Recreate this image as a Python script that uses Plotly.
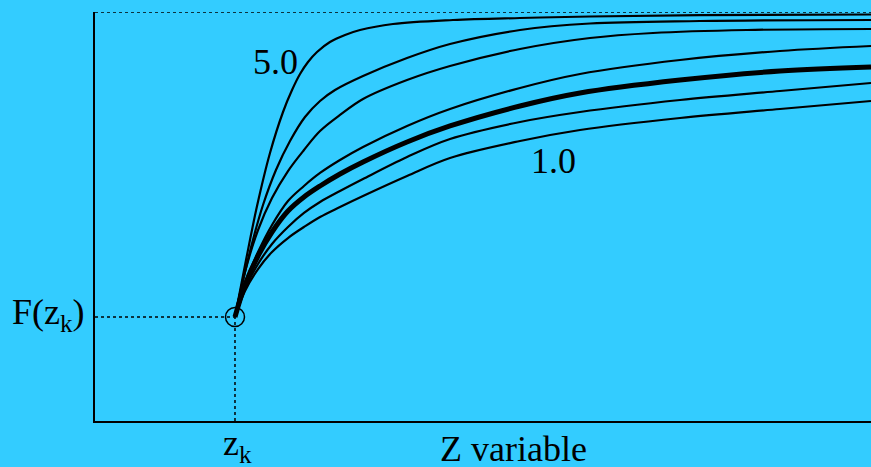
import plotly.graph_objects as go

# Conditional point (z_k, F(z_k)) shared by every curve
z_k = 18.04
F_k = 25.43

# Family of cumulative curves rising from (z_k, F_k); first is the "5.0" curve, last the "1.0" curve
curve_z = [
    [18.04, 19.46, 20.88, 22.55, 24.23, 25.39, 26.42, 27.45, 28.61, 30.28, 32.22, 34.15, 38.40, 46.13, 54.77, 63.79, 77.96, 100],
    [18.04, 19.33, 20.49, 21.65, 23.32, 25.13, 27.06, 29.00, 30.93, 34.54, 40.21, 45.75, 54.77, 63.79, 77.96, 100],
    [18.04, 19.33, 21.01, 22.81, 24.87, 26.93, 29.00, 31.57, 34.54, 40.21, 45.75, 54.77, 63.79, 71.91, 84.02, 100],
    [18.04, 19.33, 21.01, 22.81, 24.87, 26.93, 29.00, 31.57, 34.54, 40.21, 45.75, 54.77, 62.50, 75.39, 88.27, 100],
    [18.04, 19.33, 21.01, 22.81, 24.87, 26.93, 29.00, 31.57, 34.54, 40.21, 45.75, 54.77, 62.50, 75.39, 88.27, 100],
    [18.04, 19.33, 21.01, 22.81, 24.87, 26.93, 29.00, 31.57, 34.54, 40.21, 45.75, 54.77, 62.50, 75.39, 88.27, 100],
    [18.04, 19.33, 21.01, 22.81, 24.87, 26.93, 29.00, 31.57, 34.54, 40.21, 45.75, 54.77, 62.50, 75.39, 88.27, 100],
]
curve_F = [
    [25.43, 39.36, 52.57, 65.53, 75.55, 80.93, 84.84, 87.78, 90.22, 92.67, 94.38, 95.60, 97.07, 98.04, 98.53, 98.90, 99.22, 99.39],
    [25.43, 36.43, 45.23, 52.81, 61.37, 68.46, 74.33, 78.24, 80.93, 84.35, 88.75, 92.18, 95.60, 97.19, 97.80, 98.04],
    [25.43, 36.43, 46.70, 54.52, 61.12, 66.26, 70.90, 74.82, 78.73, 83.37, 86.80, 90.95, 93.64, 94.87, 95.60, 95.84],
    [25.43, 33.74, 41.32, 47.92, 53.79, 57.46, 60.64, 63.81, 66.99, 72.13, 76.28, 81.42, 84.84, 88.26, 90.46, 91.69],
    [25.43, 33.25, 40.34, 46.21, 51.34, 54.77, 57.46, 60.39, 63.33, 68.22, 72.13, 77.02, 80.20, 83.37, 85.57, 86.55],
    [25.43, 32.27, 38.39, 43.28, 47.43, 50.86, 53.55, 56.23, 59.17, 64.55, 68.95, 73.11, 75.55, 78.48, 80.68, 82.64],
    [25.43, 31.78, 37.16, 41.32, 44.74, 47.43, 49.88, 52.32, 55.01, 59.90, 64.30, 68.46, 71.15, 74.08, 76.28, 78.24],
]
curve_width = [2.2, 2.2, 2.2, 2.2, 5, 2.2, 2.2]

labels = ["5.0", "1.0"]
label_z = [23.3, 59.1]
label_F = [87.8, 63.6]

BG = "#33CCFF"
FONT = "Liberation Serif"

fig = go.Figure()

# Dotted guides: top bound, and the projections of the conditioning point
guide = dict(color="black", width=1.5, dash="dot")
fig.add_trace(go.Scatter(x=[0, 100], y=[100, 100], mode="lines", line=guide,
                         cliponaxis=False, hoverinfo="skip"))
fig.add_trace(go.Scatter(x=[0, z_k], y=[F_k, F_k], mode="lines", line=guide, hoverinfo="skip"))
fig.add_trace(go.Scatter(x=[z_k, z_k], y=[0, F_k], mode="lines", line=guide, hoverinfo="skip"))

for zs, fs, w in zip(curve_z, curve_F, curve_width):
    fig.add_trace(go.Scatter(x=zs, y=fs, mode="lines",
                             line=dict(color="black", width=w, shape="spline", smoothing=1.0),
                             cliponaxis=False, hoverinfo="skip"))

fig.add_trace(go.Scatter(x=[z_k], y=[F_k], mode="markers",
                         marker=dict(symbol="circle-open", size=19, color="black",
                                     line=dict(width=1.5, color="black")),
                         hoverinfo="skip"))

for t, zx, fy in zip(labels, label_z, label_F):
    fig.add_annotation(x=zx, y=fy, text=t, showarrow=False,
                       font=dict(family=FONT, size=36, color="black"))

fig.add_annotation(x=0, xref="paper", y=F_k, yref="y", text="F(z<sub>k</sub>)",
                   showarrow=False, xanchor="right", yanchor="middle", xshift=-8, yshift=2,
                   font=dict(family=FONT, size=36, color="black"))
fig.add_annotation(x=z_k, y=0, text="z<sub>k</sub>", showarrow=False,
                   yanchor="top", xshift=3, yshift=0,
                   font=dict(family=FONT, size=36, color="black"))
fig.add_annotation(x=53.9, y=0, text="Z variable", showarrow=False,
                   yanchor="top", yshift=-6,
                   font=dict(family=FONT, size=36, color="black"))

axis_common = dict(showgrid=False, zeroline=False, showticklabels=False, ticks="",
                   showline=True, linecolor="black", linewidth=2, fixedrange=True)
fig.update_xaxes(range=[0, 100], **axis_common)
fig.update_yaxes(range=[0, 100], **axis_common)

fig.update_layout(
    width=871, height=467, autosize=False,
    margin=dict(l=95, r=0, t=12, b=46),
    paper_bgcolor=BG, plot_bgcolor=BG,
    showlegend=False,
)

fig.write_html("out.html", config={"displayModeBar": False})
